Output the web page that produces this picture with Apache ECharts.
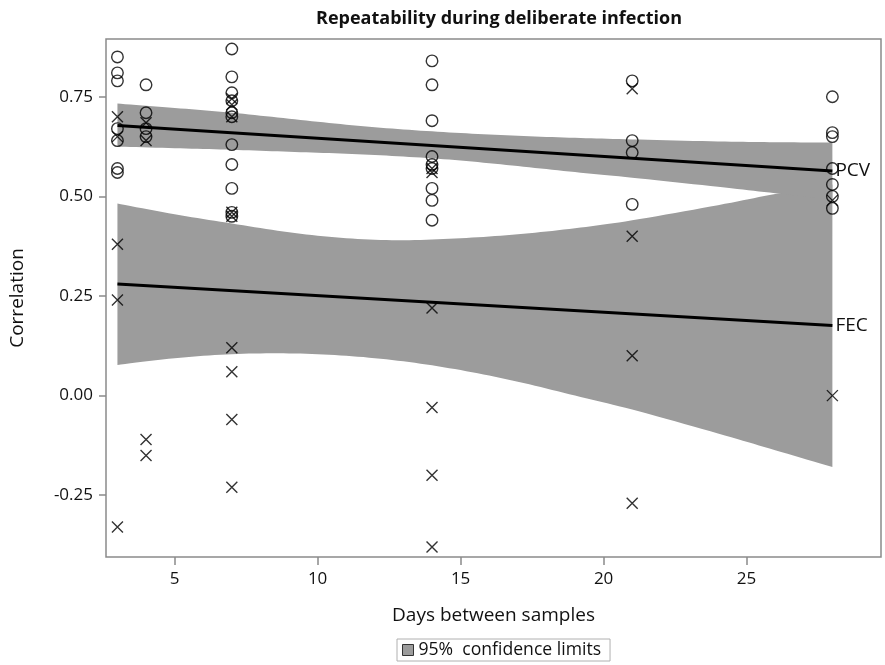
<!DOCTYPE html>
<html>
<head>
<meta charset="utf-8">
<script src="https://cdn.jsdelivr.net/npm/echarts@6/dist/echarts.min.js"></script>
<style>
  html, body { margin: 0; padding: 0; background: #fff; }
  #chart { width: 885px; height: 665px; }
</style>
</head>
<body>
<div id="chart"></div>
<script>
// ===== data =====
// PCV (circles), FEC (crosses): [days, correlation]
const pcvPoints = [
  [3, 0.85], [3, 0.81], [3, 0.79], [3, 0.67], [3, 0.64], [3, 0.57], [3, 0.56],
  [4, 0.78], [4, 0.71], [4, 0.67], [4, 0.65],
  [7, 0.87], [7, 0.80], [7, 0.76], [7, 0.74], [7, 0.71], [7, 0.70], [7, 0.63], [7, 0.58], [7, 0.52], [7, 0.46], [7, 0.45],
  [14, 0.84], [14, 0.78], [14, 0.69], [14, 0.60], [14, 0.58], [14, 0.57], [14, 0.52], [14, 0.49], [14, 0.44],
  [21, 0.79], [21, 0.64], [21, 0.61], [21, 0.48],
  [28, 0.75], [28, 0.66], [28, 0.65], [28, 0.57], [28, 0.53], [28, 0.50], [28, 0.47]
]
const fecPoints = [
  [3, 0.70], [3, 0.65], [3, 0.38], [3, 0.24], [3, -0.33],
  [4, 0.685], [4, 0.64], [4, -0.11], [4, -0.15],
  [7, 0.745], [7, 0.73], [7, 0.70], [7, 0.46], [7, 0.45], [7, 0.12], [7, 0.06], [7, -0.06], [7, -0.23],
  [14, 0.57], [14, 0.56], [14, 0.22], [14, -0.03], [14, -0.20], [14, -0.38],
  [21, 0.77], [21, 0.40], [21, 0.10], [21, -0.27],
  [28, 0.49], [28, 0.00]
]

// fitted lines (end points)
const pcvFit = [[3, 0.678], [28, 0.564]]
const fecFit = [[3, 0.280], [28, 0.176]]

// 95% confidence limits, read at these days
const bandDays = [3, 5, 7, 9, 11, 13, 15, 17, 19, 21, 24, 26, 28]
const pcvHi = [0.733, 0.722, 0.710, 0.695, 0.680, 0.668, 0.659, 0.652, 0.647, 0.643, 0.638, 0.636, 0.635]
const pcvLo = [0.625, 0.621, 0.617, 0.612, 0.607, 0.600, 0.590, 0.576, 0.561, 0.547, 0.524, 0.508, 0.492]
const fecHi = [0.482, 0.455, 0.432, 0.410, 0.395, 0.390, 0.395, 0.405, 0.420, 0.440, 0.478, 0.506, 0.530]
const fecLo = [0.077, 0.094, 0.104, 0.106, 0.100, 0.086, 0.064, 0.035, 0.000, -0.035, -0.095, -0.137, -0.179]

const xTicks = [5, 10, 15, 20, 25]
const yTicks = [-0.25, 0, 0.25, 0.5, 0.75]

const FONT = 'Open Sans'
const BAND = '#9c9c9c'
const FRAME = '#8a8a8a'
const bandName = '95%  confidence limits'

// smooth a pixel polyline (catmull-rom) just for drawing the band edges
function smoothPts(pts, steps) {
  const out = []
  for (let i = 0; i < pts.length - 1; i++) {
    const p0 = pts[Math.max(i - 1, 0)], p1 = pts[i], p2 = pts[i + 1], p3 = pts[Math.min(i + 2, pts.length - 1)]
    for (let s = 0; s < steps; s++) {
      const t = s / steps, t2 = t * t, t3 = t2 * t
      out.push([0, 1].map(k => 0.5 * ((2 * p1[k]) + (-p0[k] + p2[k]) * t +
        (2 * p0[k] - 5 * p1[k] + 4 * p2[k] - p3[k]) * t2 + (-p0[k] + 3 * p1[k] - 3 * p2[k] + p3[k]) * t3)))
    }
  }
  out.push(pts[pts.length - 1])
  return out
}

function bandSeries(lo, hi) {
  return {
    name: bandName, type: 'custom', silent: true, z: 1,
    itemStyle: { color: BAND },
    data: bandDays.map((d, i) => [d, lo[i], hi[i]]),
    encode: { x: 0, y: [1, 2] },
    renderItem: (params, api) => {
      if (params.dataIndex !== 0) return null
      const top = bandDays.map((d, i) => api.coord([d, hi[i]]))
      const bot = bandDays.map((d, i) => api.coord([d, lo[i]]))
      const pts = smoothPts(top, 10).concat(smoothPts(bot, 10).reverse())
      return { type: 'polygon', shape: { points: pts }, style: { fill: BAND } }
    }
  }
}

function fitSeries(name, data) {
  return {
    name: name, type: 'line', data: data, symbol: 'none',
    lineStyle: { color: '#000', width: 3 },
    endLabel: { show: true, formatter: '{a}', color: '#111', fontSize: 19, fontFamily: FONT, distance: 3 },
    z: 3
  }
}

const chart = echarts.init(document.getElementById('chart'), null, { renderer: 'canvas' })

chart.setOption({
  animation: false,
  backgroundColor: '#fff',
  title: {
    text: 'Repeatability during deliberate infection',
    left: 494, top: 5, textAlign: 'center',
    textStyle: { fontFamily: FONT, fontSize: 18, fontWeight: 'bold', color: '#111' }
  },
  legend: {
    data: [{ name: bandName, icon: 'rect' }],
    left: 397, top: 639,
    padding: [2, 9, 2, 5],
    borderColor: '#b0b0b0', borderWidth: 1,
    itemWidth: 11, itemHeight: 11, itemGap: 6,
    itemStyle: { color: BAND, borderColor: '#333', borderWidth: 1 },
    textStyle: { fontFamily: FONT, fontSize: 17.6, color: '#111' },
    selectedMode: false
  },
  grid: {
    left: 106, right: 4, top: 39, bottom: 108,
    show: true, borderColor: FRAME, borderWidth: 1.5
  },
  xAxis: {
    type: 'value', min: 2.6, max: 29.7,
    name: 'Days between samples', nameLocation: 'middle', nameGap: 49,
    nameTextStyle: { fontFamily: FONT, fontSize: 19, color: '#111' },
    splitLine: { show: false },
    axisLine: { show: false, onZero: false },
    axisTick: { show: true, length: 8, lineStyle: { color: FRAME, width: 1.5 }, customValues: xTicks },
    axisLabel: { fontFamily: FONT, fontSize: 17, color: '#111', margin: 14, customValues: xTicks }
  },
  yAxis: {
    type: 'value', min: -0.405, max: 0.895,
    name: 'Correlation', nameLocation: 'middle', nameGap: 79,
    nameTextStyle: { fontFamily: FONT, fontSize: 19, color: '#111' },
    splitLine: { show: false },
    axisLine: { show: false, onZero: false },
    axisTick: { show: true, length: 7, lineStyle: { color: FRAME, width: 1.5 }, customValues: yTicks },
    axisLabel: {
      fontFamily: FONT, fontSize: 17, color: '#111', margin: 13, customValues: yTicks,
      formatter: v => v.toFixed(2)
    }
  },
  series: [
    bandSeries(fecLo, fecHi),
    bandSeries(pcvLo, pcvHi),
    fitSeries('PCV', pcvFit),
    fitSeries('FEC', fecFit),
    {
      name: 'PCV pts', type: 'scatter', data: pcvPoints,
      symbol: 'circle', symbolSize: 11.5,
      itemStyle: { color: 'rgba(0,0,0,0)', borderColor: '#000', borderWidth: 1.4 },
      z: 4
    },
    {
      name: 'FEC pts', type: 'scatter', data: fecPoints,
      symbol: 'path://M0,0L10,10M10,0L0,10', symbolSize: 11,
      itemStyle: { color: 'rgba(0,0,0,0)', borderColor: '#000', borderWidth: 1.4 },
      z: 4
    }
  ]
})
</script>
</body>
</html>
